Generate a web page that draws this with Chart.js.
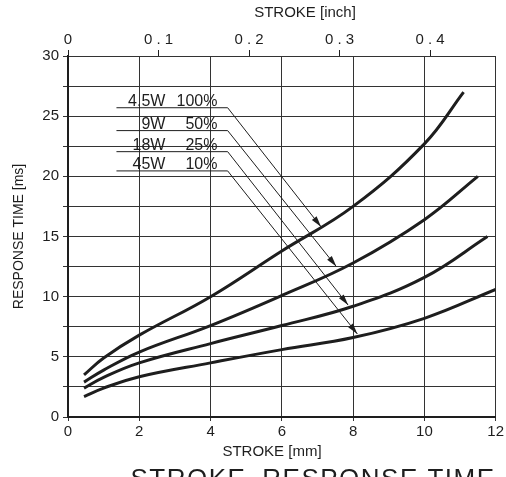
<!DOCTYPE html>
<html>
<head>
<meta charset="utf-8">
<script src="https://cdn.jsdelivr.net/npm/chart.js@4.4.1/dist/chart.umd.min.js"></script>
<style>
  html, body { margin: 0; padding: 0; background: #fff; }
  #wrap { width: 506px; height: 477px; }
</style>
</head>
<body>
<div id="wrap"><canvas id="strokeChart" width="506" height="477"></canvas></div>
<script>
// stroke [mm] vs response time [ms]
const seriesLabels = ['4.5W 100%', '9W 50%', '18W 25%', '45W 10%'];
const wattLabels = ['4.5W', '9W', '18W', '45W'];
const dutyLabels = ['100%', '50%', '25%', '10%'];

const strokeA = [0.45, 1, 2, 4, 6, 8, 10, 11.1];
const timeA = [3.5, 4.9, 6.8, 10.0, 13.8, 17.5, 22.7, 27.0];

const strokeB = [0.45, 1, 2, 4, 6, 8, 10, 11.5];
const timeB = [2.9, 3.9, 5.4, 7.6, 10.1, 12.8, 16.4, 20.0];

const strokeC = [0.45, 1, 2, 4, 6, 8, 10, 11.77];
const timeC = [2.4, 3.3, 4.5, 6.1, 7.6, 9.2, 11.6, 15.0];

const strokeD = [0.45, 1, 2, 4, 6, 8, 10, 12];
const timeD = [1.7, 2.4, 3.35, 4.5, 5.6, 6.6, 8.2, 10.6];

const mmTicks = [0, 2, 4, 6, 8, 10, 12];
const inchTicks = [0, 0.1, 0.2, 0.3, 0.4];
const msTicks = [0, 5, 10, 15, 20, 25, 30];

// callout leader lines (data units): label underline height, arrow tip on curve
const calloutY = [25.7, 23.8, 22.05, 20.45];
const calloutStartX = 1.36;
const calloutBendX = 4.48;
const arrowTipX = [7.1, 7.53, 7.86, 8.12];
const arrowTipY = [15.8, 12.5, 9.3, 6.9];

const INK = '#1e1e1e';
const FONT = '"Liberation Sans", Arial, sans-serif';

const toPoints = (xs, ys) => xs.map((x, i) => ({ x, y: ys[i] }));
const curves = [toPoints(strokeA, timeA), toPoints(strokeB, timeB), toPoints(strokeC, timeC), toPoints(strokeD, timeD)];

// callouts + loose titles
const calloutPlugin = {
    id: 'callouts',
    afterDatasetsDraw(chart) {
        const { ctx, scales: { x, y } } = chart;
        ctx.save();
        ctx.strokeStyle = INK;
        ctx.fillStyle = INK;
        ctx.lineWidth = 1;
        calloutY.forEach((v, i) => {
            const py = y.getPixelForValue(v);
            const x0 = x.getPixelForValue(calloutStartX);
            const x1 = x.getPixelForValue(calloutBendX);
            const tx = x.getPixelForValue(arrowTipX[i]);
            const ty = y.getPixelForValue(arrowTipY[i]);
            ctx.beginPath();
            ctx.moveTo(x0, py);
            ctx.lineTo(x1, py);
            ctx.lineTo(tx, ty);
            ctx.stroke();
            // arrow head
            const ang = Math.atan2(ty - py, tx - x1);
            const len = 11, half = 3;
            ctx.beginPath();
            ctx.moveTo(tx, ty);
            ctx.lineTo(tx - len * Math.cos(ang) + half * Math.sin(ang), ty - len * Math.sin(ang) - half * Math.cos(ang));
            ctx.lineTo(tx - len * Math.cos(ang) - half * Math.sin(ang), ty - len * Math.sin(ang) + half * Math.cos(ang));
            ctx.closePath();
            ctx.fill();
            // label text
            ctx.font = '16px ' + FONT;
            ctx.textBaseline = 'alphabetic';
            ctx.textAlign = 'right';
            ctx.fillText(wattLabels[i], x0 + 49, py - 2);
            ctx.fillText(dutyLabels[i], x0 + 101, py - 2);
        });

        // axis titles
        ctx.font = '15px ' + FONT;
        ctx.textAlign = 'center';
        ctx.textBaseline = 'middle';
        ctx.fillText('STROKE [inch]', 305, 13);
        ctx.fillText('STROKE [mm]', 272, 452);
        ctx.font = '26px ' + FONT;
        ctx.letterSpacing = '1.5px';
        ctx.textBaseline = 'top';
        ctx.fillText('STROKE\u2013RESPONSE TIME', 313, 467);
        ctx.restore();
    }
};

const ctx = document.getElementById('strokeChart').getContext('2d');
new Chart(ctx, {
    type: 'line',
    data: {
        datasets: curves.map((pts, i) => ({
            label: seriesLabels[i],
            data: pts,
            borderColor: INK,
            borderWidth: 3,
            pointRadius: 0,
            fill: false,
            tension: 0.4
        }))
    },
    options: {
        responsive: false,
        animation: false,
        layout: { padding: { left: 0, right: 9, top: 0, bottom: 0 } },
        plugins: { legend: { display: false }, tooltip: { enabled: false } },
        scales: {
            x: {
                type: 'linear',
                position: 'bottom',
                min: 0,
                max: 12,
                afterBuildTicks: s => { s.ticks = mmTicks.map(v => ({ value: v })); },
                afterFit: s => { s.height = 60; },
                ticks: { color: INK, font: { family: FONT, size: 15 }, padding: 2, maxRotation: 0 },
                grid: { color: '#333', lineWidth: 1, tickLength: 4 },
                border: { color: INK, width: 2 }
            },
            x2: {
                type: 'linear',
                position: 'top',
                min: 0,
                max: 12 / 25.4,
                afterBuildTicks: s => { s.ticks = inchTicks.map(v => ({ value: v })); },
                afterFit: s => { s.height = 56; },
                ticks: {
                    color: INK,
                    font: { family: FONT, size: 15 },
                    padding: 1,
                    maxRotation: 0,
                    callback: v => (v === 0 ? '0' : v.toFixed(1).split('').join(' '))
                },
                grid: { drawOnChartArea: false, color: INK, tickLength: 6 },
                border: { display: false }
            },
            y: {
                type: 'linear',
                min: 0,
                max: 30,
                ticks: {
                    stepSize: 2.5,
                    color: INK,
                    font: { family: FONT, size: 15 },
                    padding: 4,
                    callback: v => (msTicks.includes(v) ? String(v) : '')
                },
                afterFit: s => { s.width = 68; },
                grid: { color: '#333', lineWidth: 1, tickLength: 5 },
                border: { color: INK, width: 2 },
                title: {
                    display: true,
                    text: 'RESPONSE TIME [ms]',
                    color: INK,
                    font: { family: FONT, size: 14 },
                    padding: { top: 11, bottom: 0 }
                }
            }
        }
    },
    plugins: [calloutPlugin]
});
</script>
</body>
</html>
